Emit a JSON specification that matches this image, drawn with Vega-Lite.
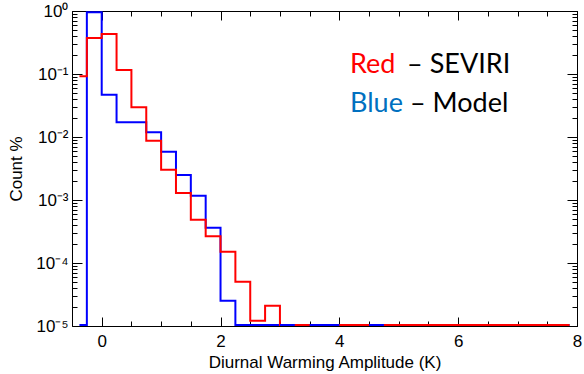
{
  "$schema": "https://vega.github.io/schema/vega-lite/v6.json",
  "autosize": "none",
  "width": 505,
  "height": 315,
  "padding": {"left": 72, "top": 11, "right": 7, "bottom": 48},
  "background": "white",
  "config": {
    "view": {"stroke": "black", "strokeWidth": 1},
    "axis": {"domain": false, "grid": false, "tickColor": "black", "tickWidth": 1, "labelColor": "black", "titleColor": "black", "labelFont": "Liberation Sans", "titleFont": "Liberation Sans", "labelFontSize": 17, "titleFontSize": 17, "titleFontWeight": "normal", "labelOverlap": false, "labelFlush": false, "labelBound": false}
  },
  "datasets": {
    "hist": [
      {"k": -0.375, "s": "SEVIRI", "v": 0.0887},
      {"k": -0.125, "s": "SEVIRI", "v": 0.36},
      {"k": 0.125, "s": "SEVIRI", "v": 0.416},
      {"k": 0.375, "s": "SEVIRI", "v": 0.112},
      {"k": 0.625, "s": "SEVIRI", "v": 0.0286},
      {"k": 0.875, "s": "SEVIRI", "v": 0.0084},
      {"k": 1.125, "s": "SEVIRI", "v": 0.0029},
      {"k": 1.375, "s": "SEVIRI", "v": 0.00124},
      {"k": 1.625, "s": "SEVIRI", "v": 0.00047},
      {"k": 1.875, "s": "SEVIRI", "v": 0.000256},
      {"k": 2.125, "s": "SEVIRI", "v": 0.000146},
      {"k": 2.375, "s": "SEVIRI", "v": 0.0000487},
      {"k": 2.625, "s": "SEVIRI", "v": 0.0000117},
      {"k": 2.875, "s": "SEVIRI", "v": 0.0000202},
      {"k": 3.125, "s": "SEVIRI", "v": 0},
      {"k": 3.375, "s": "SEVIRI", "v": 0},
      {"k": 3.625, "s": "SEVIRI", "v": 0},
      {"k": 3.875, "s": "SEVIRI", "v": 0},
      {"k": 4.125, "s": "SEVIRI", "v": 0},
      {"k": 4.375, "s": "SEVIRI", "v": 0},
      {"k": 4.625, "s": "SEVIRI", "v": 0},
      {"k": 4.875, "s": "SEVIRI", "v": 0},
      {"k": 5.125, "s": "SEVIRI", "v": 0},
      {"k": 5.375, "s": "SEVIRI", "v": 0},
      {"k": 5.625, "s": "SEVIRI", "v": 0},
      {"k": 5.875, "s": "SEVIRI", "v": 0},
      {"k": 6.125, "s": "SEVIRI", "v": 0},
      {"k": 6.375, "s": "SEVIRI", "v": 0},
      {"k": 6.625, "s": "SEVIRI", "v": 0},
      {"k": 6.875, "s": "SEVIRI", "v": 0},
      {"k": 7.125, "s": "SEVIRI", "v": 0},
      {"k": 7.375, "s": "SEVIRI", "v": 0},
      {"k": 7.625, "s": "SEVIRI", "v": 0},
      {"k": 7.875, "s": "SEVIRI", "v": 0},
      {"k": -0.375, "s": "Model", "v": 0},
      {"k": -0.125, "s": "Model", "v": 0.92},
      {"k": 0.125, "s": "Model", "v": 0.0453},
      {"k": 0.375, "s": "Model", "v": 0.0165},
      {"k": 0.625, "s": "Model", "v": 0.0165},
      {"k": 0.875, "s": "Model", "v": 0.01145},
      {"k": 1.125, "s": "Model", "v": 0.00563},
      {"k": 1.375, "s": "Model", "v": 0.0024},
      {"k": 1.625, "s": "Model", "v": 0.00113},
      {"k": 1.875, "s": "Model", "v": 0.00035},
      {"k": 2.125, "s": "Model", "v": 0.0000243},
      {"k": 2.375, "s": "Model", "v": 0},
      {"k": 2.625, "s": "Model", "v": 0},
      {"k": 2.875, "s": "Model", "v": 0},
      {"k": 3.125, "s": "Model", "v": 0},
      {"k": 3.375, "s": "Model", "v": 0},
      {"k": 3.625, "s": "Model", "v": 0},
      {"k": 3.875, "s": "Model", "v": 0},
      {"k": 4.125, "s": "Model", "v": 0},
      {"k": 4.375, "s": "Model", "v": 0},
      {"k": 4.625, "s": "Model", "v": 0},
      {"k": 4.875, "s": "Model", "v": 0},
      {"k": 5.125, "s": "Model", "v": 0},
      {"k": 5.375, "s": "Model", "v": 0},
      {"k": 5.625, "s": "Model", "v": 0},
      {"k": 5.875, "s": "Model", "v": 0},
      {"k": 6.125, "s": "Model", "v": 0},
      {"k": 6.375, "s": "Model", "v": 0},
      {"k": 6.625, "s": "Model", "v": 0},
      {"k": 6.875, "s": "Model", "v": 0},
      {"k": 7.125, "s": "Model", "v": 0},
      {"k": 7.375, "s": "Model", "v": 0},
      {"k": 7.625, "s": "Model", "v": 0},
      {"k": 7.875, "s": "Model", "v": 0}
    ],
    "modelFloor": [
      {"lo": 3.0, "hi": 3.25, "v": 0},
      {"lo": 3.5, "hi": 4.0, "v": 0},
      {"lo": 4.5, "hi": 4.75, "v": 0}
    ],
    "legend": [
      {"word": "Red", "rest": "– SEVIRI"}
    ]
  },
  "layer": [
    {
      "data": {"name": "hist"},
      "transform": [{"filter": "datum.s === 'Model'"}],
      "mark": {"type": "line", "interpolate": "step", "color": "#0000ff", "strokeWidth": 2, "invalid": null, "clip": false, "yOffset": -1},
      "encoding": {
        "x": {"field": "k", "type": "quantitative",
          "scale": {"domain": [-0.5, 8], "nice": false, "zero": false},
          "axis": {"orient": "bottom", "title": "Diurnal Warming Amplitude (K)",
            "values": [0, 0.5, 1, 1.5, 2, 2.5, 3, 3.5, 4, 4.5, 5, 5.5, 6, 6.5, 7, 7.5, 8],
            "labelExpr": "datum.value % 2 === 0 ? format(datum.value, 'd') : ''",
            "tickSize": -5, "labelPadding": 12, "titlePadding": 5}},
        "y": {"field": "v", "type": "quantitative",
          "scale": {"type": "log", "domain": [0.00001, 1], "nice": false, "clamp": true},
          "axis": {"orient": "left", "title": "Count %",
            "values": [0.00001, 0.00002, 0.00003, 0.00004, 0.00005, 0.00006, 0.00007, 0.00008, 0.00009, 0.0001, 0.0002, 0.0003, 0.0004, 0.0005, 0.0006, 0.0007, 0.0008, 0.0009, 0.001, 0.002, 0.003, 0.004, 0.005, 0.006, 0.007, 0.008, 0.009, 0.01, 0.02, 0.03, 0.04, 0.05, 0.06, 0.07, 0.08, 0.09, 0.1, 0.2, 0.3, 0.4, 0.5, 0.6, 0.7, 0.8, 0.9, 1],
            "labelExpr": "abs(log(datum.value)/LN10 - round(log(datum.value)/LN10)) < 0.001 ? '10' + ['⁰','⁻¹','⁻²','⁻³','⁻⁴','⁻⁵'][abs(round(log(datum.value)/LN10))] : ''",
            "tickSize": -5, "labelPadding": 9, "titlePadding": 10}}
      }
    },
    {
      "data": {"name": "hist"},
      "transform": [{"filter": "datum.s === 'SEVIRI'"}],
      "mark": {"type": "line", "interpolate": "step", "color": "#ff0000", "strokeWidth": 2, "invalid": null, "clip": false, "yOffset": -1},
      "encoding": {
        "x": {"field": "k", "type": "quantitative",
          "axis": {"orient": "top", "title": null, "labels": false,
            "values": [0, 0.5, 1, 1.5, 2, 2.5, 3, 3.5, 4, 4.5, 5, 5.5, 6, 6.5, 7, 7.5, 8],
            "tickSize": -5}},
        "y": {"field": "v", "type": "quantitative",
          "axis": {"orient": "right", "title": null, "labels": false,
            "values": [0.00001, 0.00002, 0.00003, 0.00004, 0.00005, 0.00006, 0.00007, 0.00008, 0.00009, 0.0001, 0.0002, 0.0003, 0.0004, 0.0005, 0.0006, 0.0007, 0.0008, 0.0009, 0.001, 0.002, 0.003, 0.004, 0.005, 0.006, 0.007, 0.008, 0.009, 0.01, 0.02, 0.03, 0.04, 0.05, 0.06, 0.07, 0.08, 0.09, 0.1, 0.2, 0.3, 0.4, 0.5, 0.6, 0.7, 0.8, 0.9, 1],
            "tickSize": -5}}
      }
    },
    {
      "data": {"name": "modelFloor"},
      "mark": {"type": "rule", "color": "#0000ff", "strokeWidth": 2, "yOffset": -1, "invalid": null},
      "encoding": {
        "x": {"field": "lo", "type": "quantitative", "axis": null},
        "x2": {"field": "hi"},
        "y": {"field": "v", "type": "quantitative", "axis": null}
      }
    },
    {
      "data": {"name": "legend"},
      "mark": {"type": "text", "color": "#ff0000", "font": "Lato", "fontSize": 27, "align": "left", "baseline": "alphabetic"},
      "encoding": {
        "text": {"field": "word"},
        "x": {"datum": 4.18, "type": "quantitative", "axis": {"orient": "bottom", "title": null, "labels": false, "values": [0, 2, 4, 6, 8], "tickSize": -9}},
        "y": {"datum": 0.1037, "type": "quantitative", "axis": {"orient": "left", "title": null, "labels": false, "values": [0.00001, 0.0001, 0.001, 0.01, 0.1, 1], "tickSize": -10}}
      }
    },
    {
      "data": {"name": "legend"},
      "mark": {"type": "text", "color": "#000000", "font": "Lato", "fontSize": 27, "align": "left", "baseline": "alphabetic"},
      "encoding": {
        "text": {"field": "rest"},
        "x": {"datum": 5.14, "type": "quantitative", "axis": {"orient": "top", "title": null, "labels": false, "values": [0, 2, 4, 6, 8], "tickSize": -9}},
        "y": {"datum": 0.1037, "type": "quantitative", "axis": {"orient": "right", "title": null, "labels": false, "values": [0.00001, 0.0001, 0.001, 0.01, 0.1, 1], "tickSize": -10}}
      }
    },
    {
      "data": {"values": [{"word": "Blue", "rest": "– Model"}]},
      "mark": {"type": "text", "color": "#0070c0", "font": "Lato", "fontSize": 27, "align": "left", "baseline": "alphabetic"},
      "encoding": {
        "text": {"field": "word"},
        "x": {"datum": 4.18, "type": "quantitative", "axis": null},
        "y": {"datum": 0.0252, "type": "quantitative", "axis": null}
      }
    },
    {
      "data": {"values": [{"word": "Blue", "rest": "– Model"}]},
      "mark": {"type": "text", "color": "#000000", "font": "Lato", "fontSize": 27, "align": "left", "baseline": "alphabetic"},
      "encoding": {
        "text": {"field": "rest"},
        "x": {"datum": 5.19, "type": "quantitative", "axis": null},
        "y": {"datum": 0.0252, "type": "quantitative", "axis": null}
      }
    }
  ],
  "resolve": {"axis": {"x": "independent", "y": "independent"}}
}
